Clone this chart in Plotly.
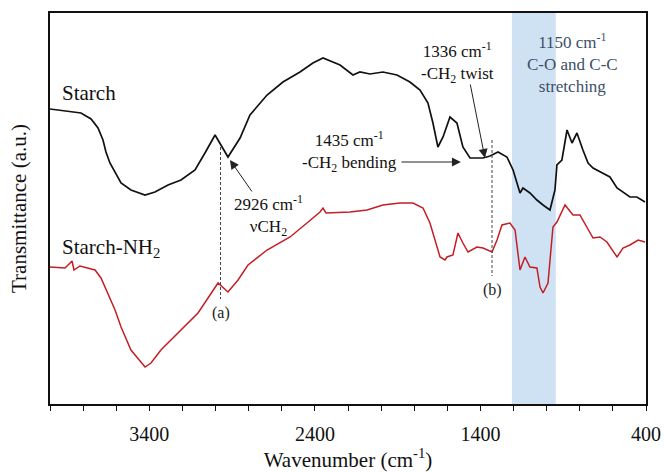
import plotly.graph_objects as go

# ---- data ----
starch_wn = [4000, 3861, 3813, 3752, 3710, 3680, 3662, 3638, 3607, 3571, 3511, 3426, 3366, 3287,
             3209, 3124, 3064, 3003, 2925, 2852, 2792, 2689, 2593, 2490, 2412, 2351, 2248, 2170,
             2128, 2067, 1989, 1904, 1826, 1765, 1717, 1687, 1657, 1626, 1584, 1542, 1506, 1463,
             1421, 1385, 1342, 1294, 1240, 1203, 1161, 1143, 1101, 1059, 1022, 980, 950, 938,
             908, 877, 847, 817, 781, 750, 720, 678, 618, 575, 539, 497, 455, 406]
starch_t = [295, 292, 291, 285, 276, 264, 252, 241, 231, 221, 214, 209, 212, 219,
            224, 234, 251, 269, 247, 266, 289, 309, 322, 332, 341, 346, 339, 329,
            332, 330, 332, 329, 322, 314, 301, 281, 257, 267, 287, 281, 257, 246,
            246, 246, 248, 252, 247, 234, 211, 216, 211, 204, 199, 194, 214, 239,
            244, 274, 261, 271, 254, 241, 236, 232, 227, 216, 212, 207, 207, 202]

nh2_wn = [4000, 3909, 3867, 3855, 3819, 3770, 3728, 3692, 3650, 3607, 3571, 3511, 3426, 3390,
          3330, 3209, 3106, 2985, 2925, 2864, 2804, 2689, 2550, 2448, 2369, 2351, 2333, 2188,
          2085, 1989, 1886, 1808, 1747, 1705, 1675, 1644, 1614, 1602, 1566, 1536, 1506, 1475,
          1421, 1385, 1330, 1300, 1270, 1222, 1191, 1161, 1131, 1101, 1059, 1040, 1022, 992,
          962, 938, 889, 841, 799, 757, 720, 678, 636, 575, 539, 497, 448, 406]
nh2_t = [137, 136, 143, 134, 138, 136, 134, 126, 111, 94, 77, 54, 37, 41,
         54, 74, 91, 121, 112, 124, 139, 154, 167, 181, 192, 196, 191, 192,
         194, 199, 201, 201, 196, 181, 164, 147, 144, 147, 149, 171, 161, 152,
         157, 156, 152, 164, 179, 181, 174, 134, 147, 137, 136, 117, 111, 121,
         177, 182, 199, 189, 189, 177, 166, 167, 162, 147, 156, 159, 164, 162]

band = [1210, 945]
x_ticks = [3400, 2400, 1400, 400]
x_range = [4000, 400]
y_range = [0, 391]

# dashed guide lines: (wavenumber, y_top, y_bottom, label, label_y)
guides = [(2970, 257, 105, "(a)", 91), (1330, 264, 128, "(b)", 114)]

SERIF = "Liberation Serif"
fig = go.Figure()

fig.add_shape(type="rect", xref="x", yref="paper", x0=band[0], x1=band[1], y0=0, y1=1,
              fillcolor="#cfe2f3", line=dict(width=0), layer="below")

for wn, yt, yb, lab, ly in guides:
    fig.add_shape(type="line", xref="x", yref="y", x0=wn, x1=wn, y0=yt, y1=yb,
                  line=dict(color="#444444", width=1, dash="3px,2px"))
    fig.add_annotation(x=wn, y=ly, text=lab, showarrow=False,
                       font=dict(family=SERIF, size=16, color="#222222"))

fig.add_trace(go.Scatter(x=starch_wn, y=starch_t, mode="lines",
                         line=dict(color="#111111", width=1.7), showlegend=False))
fig.add_trace(go.Scatter(x=nh2_wn, y=nh2_t, mode="lines",
                         line=dict(color="#c41e24", width=1.5), showlegend=False))

# curve labels
fig.add_annotation(x=3940, y=311, text="Starch", showarrow=False, xanchor="left",
                   font=dict(family=SERIF, size=21, color="#111111"))
fig.add_annotation(x=3940, y=156, text="Starch-NH<sub>2</sub>", showarrow=False, xanchor="left",
                   font=dict(family=SERIF, size=21, color="#111111"))

afont = dict(family=SERIF, size=17, color="#111111")
# peak texts
fig.add_annotation(x=2683, y=189, text="2926 cm<sup>-1</sup><br>νCH<sub>2</sub>",
                   showarrow=False, font=afont)
fig.add_annotation(x=2188, y=253, text="1435 cm<sup>-1</sup><br>-CH<sub>2</sub> bending",
                   showarrow=False, font=afont)
fig.add_annotation(x=1536, y=342, text="1336 cm<sup>-1</sup><br>-CH<sub>2</sub> twist",
                   showarrow=False, font=afont)
fig.add_annotation(x=847, y=341, text="1150 cm<sup>-1</sup><br>C-O and C-C<br>stretching",
                   showarrow=False, font=dict(family=SERIF, size=17, color="#3b4f68"))

# arrows: (tip_x, tip_y, tail_x, tail_y)
arrows = [(2913, 244, 2774, 211), (1518, 242, 1886, 242), (1373, 246, 1463, 321)]
for tx, ty, sx, sy in arrows:
    fig.add_annotation(x=tx, y=ty, ax=sx, ay=sy, axref="x", ayref="y", text="",
                       showarrow=True, arrowhead=2, arrowsize=1.8, arrowwidth=1,
                       arrowcolor="#222222", standoff=0)

fig.update_xaxes(range=x_range, tickvals=x_ticks, ticks="outside", ticklen=5, tickwidth=1.2,
                 tickcolor="#111111", showline=True, linecolor="#111111", linewidth=1.5,
                 mirror=True, showgrid=False, zeroline=False, automargin=False,
                 ticklabelstandoff=6,
                 minor=dict(dtick=200, tick0=400, ticks="outside", ticklen=5, tickwidth=1.2,
                            tickcolor="#111111", showgrid=False),
                 tickfont=dict(family=SERIF, size=20, color="#111111"),
                 title=dict(text="Wavenumber (cm<sup>-1</sup>)", standoff=14,
                            font=dict(family=SERIF, size=21, color="#111111")))
fig.update_yaxes(range=y_range, showticklabels=False, ticks="", showline=True,
                 linecolor="#111111", linewidth=1.8, mirror=True, showgrid=False, zeroline=False,
                 automargin=False,
                 title=dict(text="Transmittance (a.u.)", standoff=16,
                            font=dict(family=SERIF, size=21, color="#111111")))

fig.update_layout(width=664, height=472, margin=dict(l=50, r=18, t=13, b=68),
                  plot_bgcolor="white", paper_bgcolor="white")

fig.write_html("out.html")
